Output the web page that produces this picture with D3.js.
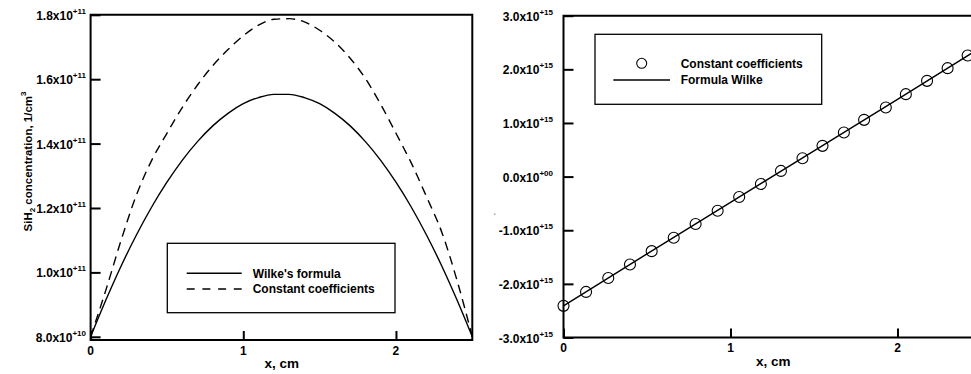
<!DOCTYPE html>
<html>
<head>
<meta charset="utf-8">
<script src="https://cdn.jsdelivr.net/npm/d3@7"></script>
<style>
  html, body { margin: 0; padding: 0; background: #fff; }
  svg { display: block; }
  text { font-family: "Liberation Sans", Arial, Helvetica, sans-serif; font-weight: bold; fill: #000; }
</style>
</head>
<body>
<svg id="chart" width="971" height="374"></svg>
<script>
// ---- Left panel: SiH2 concentration profiles ----
const profileX = [0, 0.1, 0.2, 0.3, 0.4, 0.5, 0.6, 0.7, 0.8, 0.9, 1.0, 1.1, 1.2,
                  1.3, 1.4, 1.5, 1.6, 1.7, 1.8, 1.9, 2.0, 2.1, 2.2, 2.3, 2.4, 2.5];
const wilkeFormula = [0.800e11, 0.914e11, 1.020e11, 1.116e11, 1.203e11, 1.280e11, 1.348e11,
                      1.406e11, 1.455e11, 1.494e11, 1.524e11, 1.543e11, 1.553e11,
                      1.553e11, 1.543e11, 1.524e11, 1.494e11, 1.455e11, 1.406e11, 1.348e11,
                      1.280e11, 1.203e11, 1.116e11, 1.020e11, 0.914e11, 0.800e11];
const constantCoeffs = [0.800e11, 0.945e11, 1.100e11, 1.240e11, 1.348e11, 1.432e11, 1.512e11,
                        1.582e11, 1.642e11, 1.692e11, 1.735e11, 1.768e11, 1.786e11,
                        1.788e11, 1.778e11, 1.752e11, 1.715e11, 1.665e11, 1.602e11, 1.522e11,
                        1.432e11, 1.340e11, 1.235e11, 1.125e11, 0.975e11, 0.800e11];
const leftYTicks = [0.8e11, 1.0e11, 1.2e11, 1.4e11, 1.6e11, 1.8e11];
const leftYMant  = ["8.0", "1.0", "1.2", "1.4", "1.6", "1.8"];
const leftYExp   = ["+10", "+11", "+11", "+11", "+11", "+11"];
const xTicks = [0, 1, 2];
const xTickLabels = ["0", "1", "2"];

// ---- Right panel: linear profile ----
const pointX = [0, 0.135, 0.268, 0.398, 0.528, 0.660, 0.791, 0.923, 1.052, 1.182,
                1.302, 1.431, 1.551, 1.679, 1.800, 1.930, 2.050, 2.177, 2.300, 2.420];
const pointConst = [-2.41e15, -2.15e15, -1.89e15, -1.64e15, -1.39e15, -1.14e15, -0.885e15,
                    -0.636e15, -0.381e15, -0.138e15, 0.106e15, 0.343e15, 0.573e15, 0.821e15,
                    1.058e15, 1.287e15, 1.537e15, 1.785e15, 2.022e15, 2.257e15];
const lineX = [0, 0.5, 1.0, 1.5, 2.0, 2.5];
const lineWilke = [-2.41e15, -1.44e15, -0.48e15, 0.48e15, 1.44e15, 2.41e15];
const rightYTicks = [-3e15, -2e15, -1e15, 0, 1e15, 2e15, 3e15];
const rightYMant  = ["-3.0", "-2.0", "-1.0", "0.0", "1.0", "2.0", "3.0"];
const rightYExp   = ["+15", "+15", "+15", "+00", "+15", "+15", "+15"];

const svg = d3.select("#chart");

function drawTickLabel(g, x, y, mant, exp) {
  const t = g.append("text")
    .attr("x", x).attr("y", y)
    .attr("text-anchor", "end")
    .attr("font-size", 12);
  t.append("tspan").text(mant + "x10");
  t.append("tspan").attr("font-size", 8).attr("dy", -6).text(exp);
}

function frame(g, x0, x1, y0, y1) {
  g.append("path")
    .attr("d", `M${x0},${y1}L${x0},${y0}L${x1},${y0}L${x1},${y1}Z`)
    .attr("fill", "none").attr("stroke", "#000").attr("stroke-width", 2);
}

// ================= Left panel =================
{
  const g = svg.append("g");
  const x = d3.scaleLinear().domain([0, 2.5]).range([90.6, 472.3]);
  const y = d3.scaleLinear().domain([0.79e11, 1.8e11]).range([340, 14.8]);

  // inward ticks
  g.append("g").attr("transform", `translate(${x(0)},0)`)
    .call(d3.axisLeft(y).tickValues(leftYTicks).tickSize(-10).tickFormat(""))
    .call(a => a.select(".domain").remove())
    .call(a => a.selectAll("line").attr("stroke-width", 2));
  g.append("g").attr("transform", `translate(0,${y.range()[0]})`)
    .call(d3.axisBottom(x).tickValues(xTicks).tickSize(-9).tickFormat(""))
    .call(a => a.select(".domain").remove())
    .call(a => a.selectAll("line").attr("stroke-width", 2));

  frame(g, x(0), x(2.5), y(1.8e11), y.range()[0]);

  leftYTicks.forEach((v, i) => drawTickLabel(g, 86, y(v) + 5, leftYMant[i], leftYExp[i]));
  xTicks.forEach((v, i) => g.append("text")
    .attr("x", x(v)).attr("y", 354.5).attr("text-anchor", "middle")
    .attr("font-size", 12).text(xTickLabels[i]));

  g.append("text").attr("x", 281.7).attr("y", 368).attr("text-anchor", "middle")
    .attr("font-size", 13.5).text("x, cm");

  const yt = g.append("text").attr("transform", "translate(32,161.5) rotate(-90)")
    .attr("text-anchor", "middle").attr("font-size", 11.5);
  yt.append("tspan").text("SiH");
  yt.append("tspan").attr("font-size", 8).attr("dy", 3).text("2");
  yt.append("tspan").attr("dy", -3).text(" concentration, 1/cm");
  yt.append("tspan").attr("font-size", 8).attr("dy", -6).text("3");

  const line = d3.line().x((d, i) => x(profileX[i])).y(d => y(d)).curve(d3.curveMonotoneX);
  g.append("path").datum(wilkeFormula).attr("d", line)
    .attr("fill", "none").attr("stroke", "#000").attr("stroke-width", 1.4);
  g.append("path").datum(constantCoeffs).attr("d", line)
    .attr("fill", "none").attr("stroke", "#000").attr("stroke-width", 1.4)
    .attr("stroke-dasharray", "9,6");

  // legend
  g.append("rect").attr("x", 167.3).attr("y", 243.3).attr("width", 227.7).attr("height", 69.4)
    .attr("fill", "#fff").attr("stroke", "#000").attr("stroke-width", 1.3);
  g.append("line").attr("x1", 186.7).attr("x2", 241.7).attr("y1", 273.3).attr("y2", 273.3)
    .attr("stroke", "#000").attr("stroke-width", 1.4);
  g.append("line").attr("x1", 186.7).attr("x2", 241.7).attr("y1", 289).attr("y2", 289)
    .attr("stroke", "#000").attr("stroke-width", 1.4).attr("stroke-dasharray", "8,7.7");
  g.append("text").attr("x", 252.7).attr("y", 277.5).attr("font-size", 12).text("Wilke's formula");
  g.append("text").attr("x", 252.7).attr("y", 293.2).attr("font-size", 12).text("Constant coefficients");
}

// ================= Right panel =================
{
  const g = svg.append("g");
  const x = d3.scaleLinear().domain([0, 2.5]).range([563.5, 981]);
  const y = d3.scaleLinear().domain([-3e15, 3e15]).range([337.5, 15.7]);

  g.append("g").attr("transform", `translate(${x(0)},0)`)
    .call(d3.axisLeft(y).tickValues(rightYTicks).tickSize(-10).tickFormat(""))
    .call(a => a.select(".domain").remove())
    .call(a => a.selectAll("line").attr("stroke-width", 2));
  g.append("g").attr("transform", `translate(0,${y(-3e15)})`)
    .call(d3.axisBottom(x).tickValues(xTicks).tickSize(-9).tickFormat(""))
    .call(a => a.select(".domain").remove())
    .call(a => a.selectAll("line").attr("stroke-width", 2));

  frame(g, x(0), x(2.5), y(3e15), y(-3e15));

  rightYTicks.forEach((v, i) => drawTickLabel(g, 553, y(v) + 5, rightYMant[i], rightYExp[i]));
  xTicks.forEach((v, i) => g.append("text")
    .attr("x", x(v)).attr("y", 352).attr("text-anchor", "middle")
    .attr("font-size", 12).text(xTickLabels[i]));

  g.append("text").attr("x", 773.3).attr("y", 366).attr("text-anchor", "middle")
    .attr("font-size", 13.5).text("x, cm");

  // faint axis-title placeholder mark
  g.append("text").attr("transform", "translate(498,214) rotate(-90)")
    .attr("text-anchor", "middle").attr("font-size", 6).text("'");

  const line = d3.line().x((d, i) => x(lineX[i])).y(d => y(d));
  g.append("path").datum(lineWilke).attr("d", line)
    .attr("fill", "none").attr("stroke", "#000").attr("stroke-width", 1.4);

  g.selectAll("circle.pt").data(pointConst).join("circle")
    .attr("class", "pt")
    .attr("cx", (d, i) => x(pointX[i])).attr("cy", d => y(d)).attr("r", 5.5)
    .attr("fill", "none").attr("stroke", "#000").attr("stroke-width", 1.1);

  // legend
  g.append("rect").attr("x", 595).attr("y", 34.3).attr("width", 226.7).attr("height", 70)
    .attr("fill", "#fff").attr("stroke", "#000").attr("stroke-width", 1.3);
  g.append("circle").attr("cx", 641.7).attr("cy", 63.3).attr("r", 5)
    .attr("fill", "none").attr("stroke", "#000").attr("stroke-width", 1.1);
  g.append("line").attr("x1", 613.3).attr("x2", 670).attr("y1", 80).attr("y2", 80)
    .attr("stroke", "#000").attr("stroke-width", 1.4);
  g.append("text").attr("x", 680.7).attr("y", 67.7).attr("font-size", 12).text("Constant coefficients");
  g.append("text").attr("x", 680.7).attr("y", 84.3).attr("font-size", 12).text("Formula Wilke");
}
</script>
</body>
</html>
